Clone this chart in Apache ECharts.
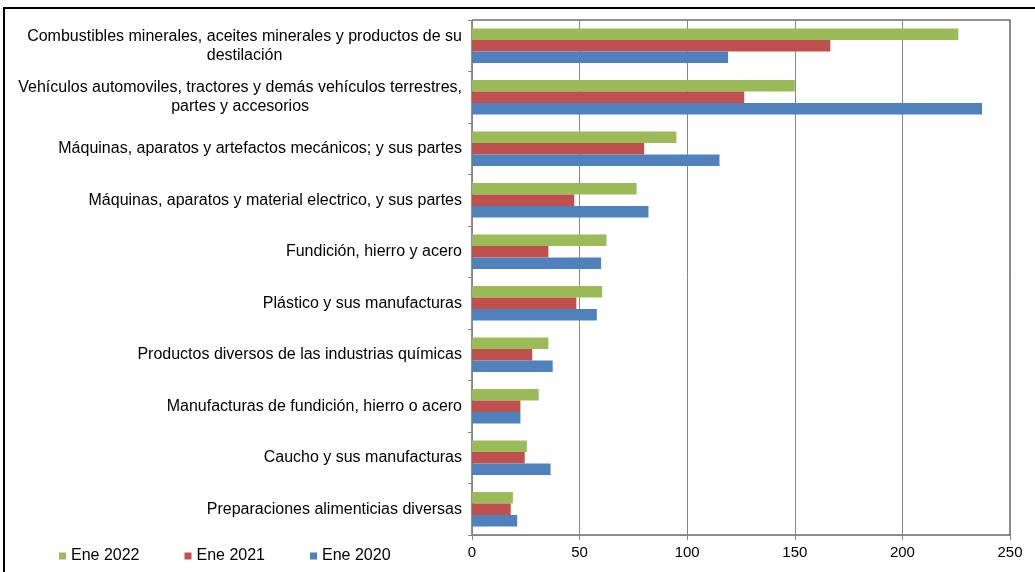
<!DOCTYPE html>
<html><head><meta charset="utf-8">
<script src="https://cdn.jsdelivr.net/npm/echarts@6/dist/echarts.min.js"></script>
<style>html,body{margin:0;padding:0;background:#fff}#c{width:1035px;height:572px}</style>
</head><body><div id="c"></div>
<script>
const categories = [
  "Combustibles minerales, aceites minerales y productos de su\ndestilación",
  "Vehículos automoviles, tractores y demás vehículos terrestres,\npartes y accesorios",
  "Máquinas, aparatos y artefactos mecánicos; y sus partes",
  "Máquinas, aparatos y material electrico, y sus partes",
  "Fundición, hierro y acero",
  "Plástico y sus manufacturas",
  "Productos diversos de las industrias químicas",
  "Manufacturas de fundición, hierro o acero",
  "Caucho y sus manufacturas",
  "Preparaciones alimenticias diversas"
];
const seriesNames = ["Ene 2022", "Ene 2021", "Ene 2020"];
const ene2022 = [226, 150, 95, 76.5, 62.5, 60.5, 35.5, 31, 25.5, 19];
const ene2021 = [166.5, 126.5, 80, 47.5, 35.5, 48.5, 28, 22.5, 24.5, 18];
const ene2020 = [119, 237, 115, 82, 60, 58, 37.5, 22.5, 36.5, 21];
const xTicks = [0, 50, 100, 150, 200, 250];

const colors = ["#9BBB59", "#C0504D", "#4F81BD"];
const font = "'Liberation Sans', Arial, sans-serif";
const chart = echarts.init(document.getElementById('c'), null, {renderer: 'canvas'});
const dataSets = [ene2022, ene2021, ene2020];
chart.setOption({
  animation: false,
  backgroundColor: '#fff',
  textStyle: {fontFamily: font},
  graphic: [{
    type: 'rect', shape: {x: 4, y: 8, width: 1200, height: 800},
    style: {fill: 'none', stroke: '#000', lineWidth: 2}, silent: true, z: 100
  }],
  grid: {left: 472, right: 25, top: 20, bottom: 37, show: true, borderColor: '#222', borderWidth: 1, containLabel: false},
  legend: {
    data: seriesNames, left: 54, top: 543, itemWidth: 7, itemHeight: 7, itemGap: 45,
    icon: 'rect', textStyle: {fontFamily: font, fontSize: 16, color: '#000'}
  },
  xAxis: {
    type: 'value', min: xTicks[0], max: xTicks[xTicks.length-1], interval: 50,
    axisLine: {show: true, lineStyle: {color: '#868686', width: 1}},
    axisTick: {show: true, length: 5, lineStyle: {color: '#868686'}},
    splitLine: {show: true, lineStyle: {color: '#868686', width: 1}},
    axisLabel: {fontFamily: font, fontSize: 15, color: '#000', margin: 10}
  },
  yAxis: {
    type: 'category', data: categories, inverse: true,
    axisLine: {show: true, lineStyle: {color: '#868686', width: 1}},
    axisTick: {show: true, length: 4, lineStyle: {color: '#868686'}},
    axisLabel: {
      fontFamily: font, fontSize: 16, color: '#000', margin: 10, lineHeight: 19,
      formatter: function (v) {
        return v.split('\n').map(function (l) { return '{c|' + l + '}'; }).join('\n');
      },
      rich: {c: {align: 'center', fontFamily: font, fontSize: 16, color: '#000', lineHeight: 19}}
    }
  },
  series: seriesNames.map(function (n, i) {
    return {
      name: n, type: 'bar', data: dataSets[i], barGap: '0%', barCategoryGap: '33%',
      itemStyle: {color: colors[i]}
    };
  })
});
</script></body></html>
